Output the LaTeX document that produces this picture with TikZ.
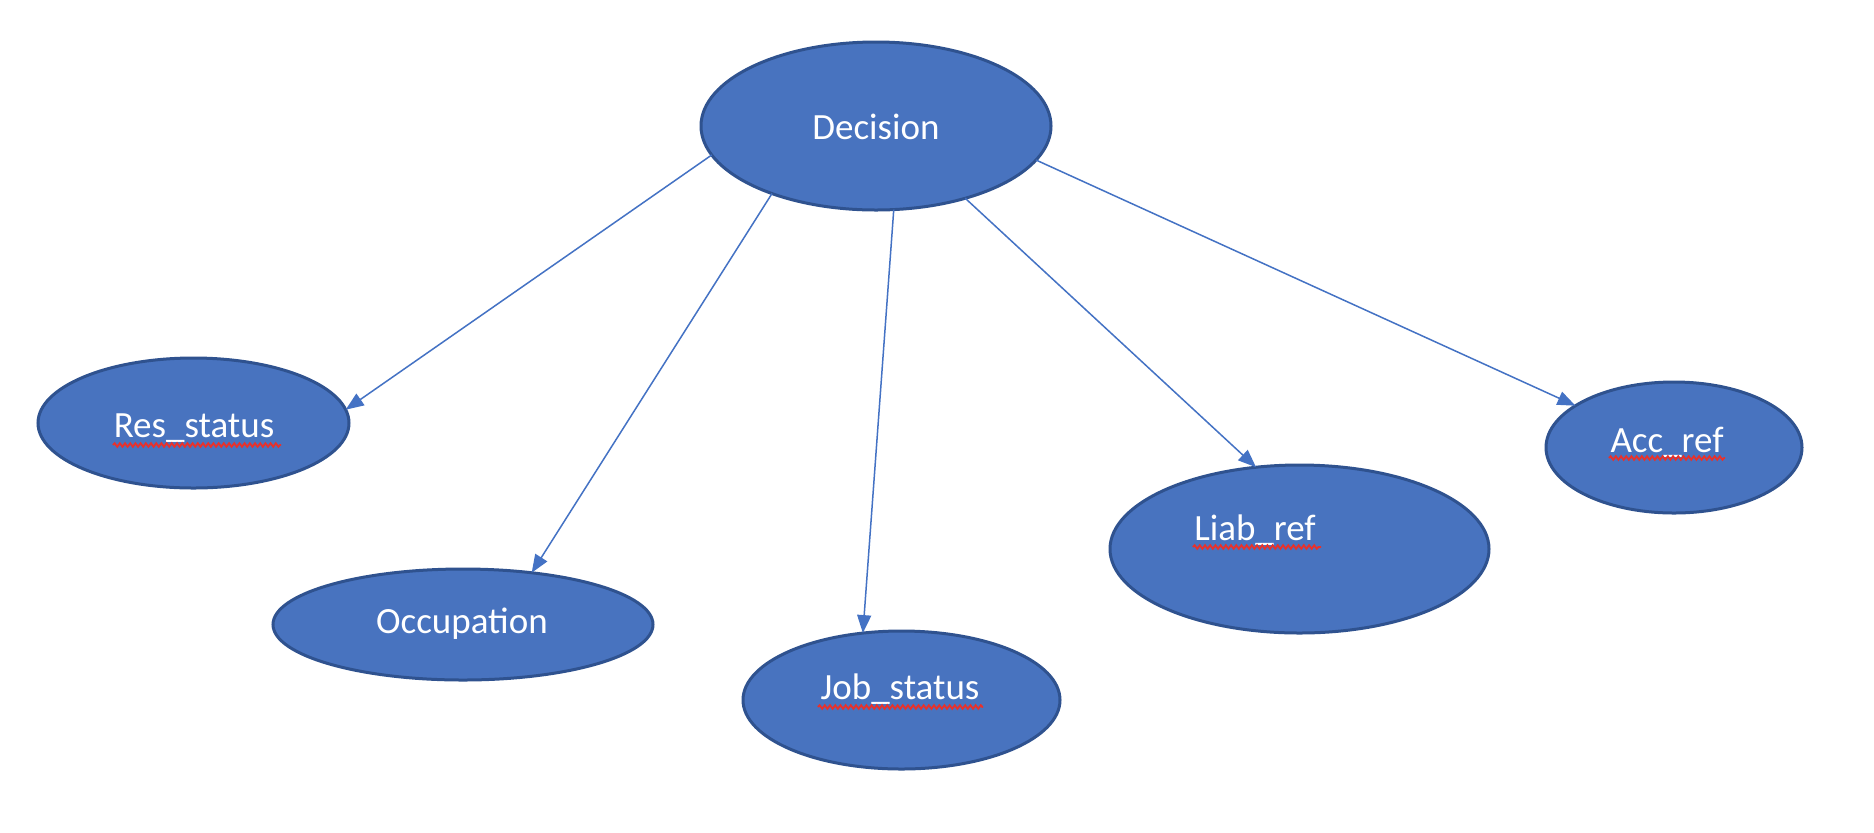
\documentclass[tikz,border=0pt]{standalone}
\usepackage{fontspec}
\setmainfont{Carlito}
\usetikzlibrary{shapes.geometric,arrows.meta,decorations.pathmorphing}
\definecolor{nodefill}{HTML}{4873BF}
\definecolor{nodeedge}{HTML}{2F528F}
\definecolor{linecol}{HTML}{4472C4}
\definecolor{spell}{HTML}{E8312B}
\begin{document}
\begin{tikzpicture}[x=0.5pt,y=-0.5pt,
 bub/.style={ellipse,draw=nodeedge,fill=nodefill,line width=1.5pt,inner sep=0pt,outer sep=0pt},
 lbl/.style={text=white,font=\fontsize{18.5}{22}\selectfont,anchor=base,inner sep=0pt},
 arr/.style={draw=linecol,line width=0.75pt,-{Triangle[length=9pt,width=7pt]}},
 squig/.style={draw=spell,line width=0.9pt,decorate,decoration={snake,amplitude=0.9pt,segment length=2.6pt}}]
\useasboundingbox[fill=white] (0,0) rectangle (1874,832);
% ellipses
\node[bub,minimum width=175pt,minimum height=84pt] (dec) at (876,126) {};
\node[bub,minimum width=155.5pt,minimum height=65pt] (res) at (193.5,423) {};
\node[bub,minimum width=190pt,minimum height=55.5pt] (occ) at (463,624.5) {};
\node[bub,minimum width=158.5pt,minimum height=69pt] (job) at (901.5,700) {};
\node[bub,minimum width=189.5pt,minimum height=84pt] (liab) at (1299.5,549) {};
\node[bub,minimum width=128pt,minimum height=65.5pt] (acc) at (1674,447.5) {};
% labels
\node[lbl] (decT) at (876,139) {Decision};
\node[lbl] (resT) at (194,437) {Res\_status};
\node[lbl] (occT) at (462,633) {Occupation};
\node[lbl] (jobT) at (900,699) {Job\_status};
\node[lbl] (liabT) at (1255,540) {Liab\_ref};
\node[lbl] (accT) at (1667,452) {Acc\_ref};
% spell-check squiggles
\draw[squig] (113,445) -- (281,445);
\draw[squig] (818,707) -- (983,707);
\draw[squig] (1193,547) -- (1321,547);
\draw[squig] (1609,458) -- (1725,458);
% connectors
\draw[arr] (dec.190.3) -- (res.5.7);
\draw[arr] (dec.213) -- (occ.37.4);
\draw[arr] (dec.282.4) -- (job.120.5);
\draw[arr] (dec.321.3) -- (liab.118.4);
\draw[arr] (dec.348.8) -- (acc.157.7);
\end{tikzpicture}
\end{document}
